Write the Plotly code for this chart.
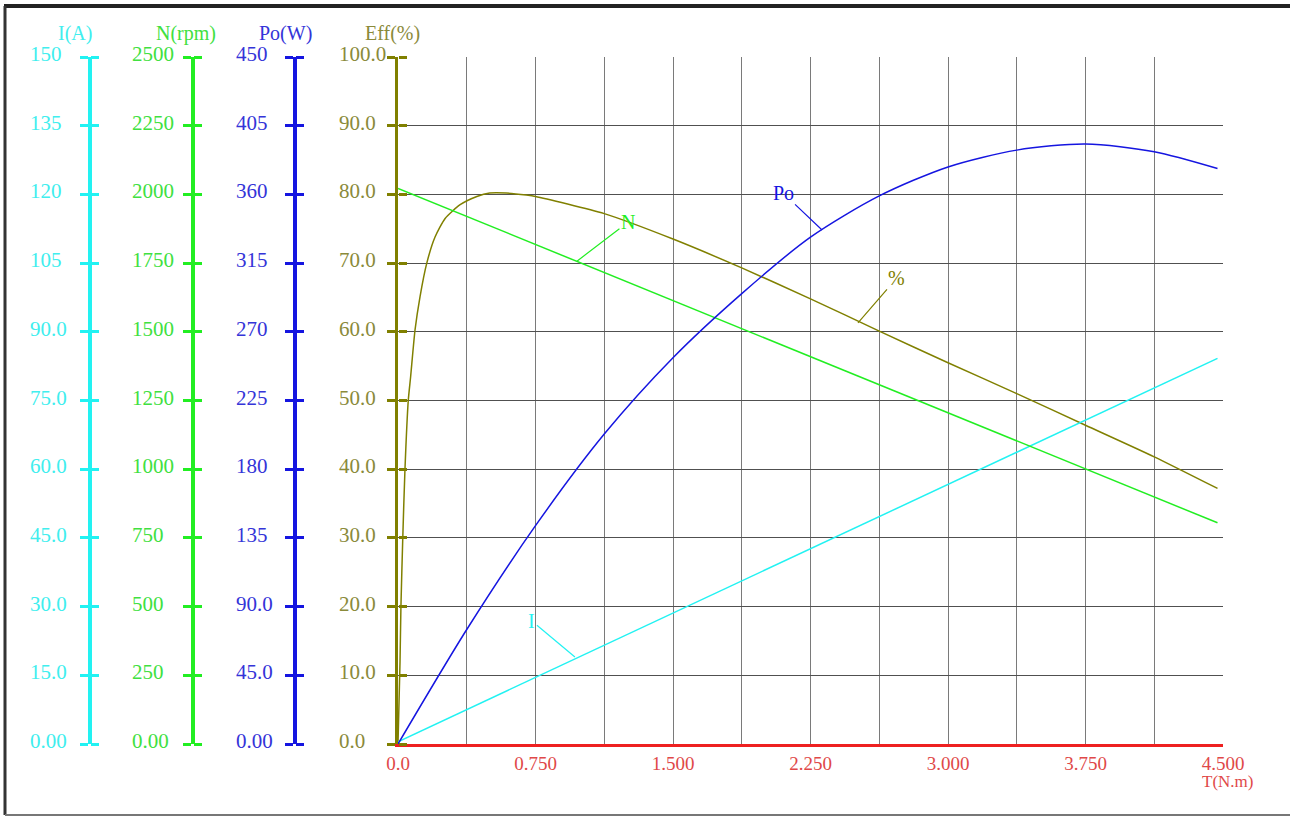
import plotly.graph_objects as go

# ---------------- data ----------------
T_lin = [0.0, 4.47]
I_vals = [0.5, 84.2]            # A
N_vals = [2022, 805]            # rpm

T_po = [0.0, 0.375, 0.75, 1.125, 1.5, 1.875, 2.25, 2.625, 3.0, 3.375, 3.75, 4.125, 4.47]
Po_vals = [0, 75, 143, 203, 253, 295, 332, 359, 378, 389, 393, 388, 377]   # W

T_eff = [0.0, 0.011, 0.016, 0.026, 0.038, 0.056, 0.069, 0.093, 0.12, 0.157, 0.202,
         0.257, 0.339, 0.43, 0.5, 0.59, 0.70, 0.75, 1.125, 1.5, 1.875, 2.25, 2.625,
         3.0, 3.375, 3.75, 4.125, 4.47]
Eff_vals = [0, 12, 20, 30, 40, 50, 53.5, 60.3, 65.1, 70.0, 73.8, 76.5, 78.5, 79.7,
            80.2, 80.2, 79.9, 79.7, 77.2, 73.5, 69.3, 64.8, 60.1, 55.5, 51.0, 46.4,
            41.8, 37.2]

x_ticks = [0, 0.75, 1.5, 2.25, 3.0, 3.75, 4.5]
x_labels = ["0.0", "0.750", "1.500", "2.250", "3.000", "3.750", "4.500"]
x_minor = [0.375, 1.125, 1.875, 2.625, 3.375, 4.125]

I_ticks = [0, 15, 30, 45, 60, 75, 90, 105, 120, 135, 150]
I_labels = ["0.00", "15.0", "30.0", "45.0", "60.0", "75.0", "90.0", "105", "120", "135", "150"]
N_ticks = [0, 250, 500, 750, 1000, 1250, 1500, 1750, 2000, 2250, 2500]
N_labels = ["0.00", "250", "500", "750", "1000", "1250", "1500", "1750", "2000", "2250", "2500"]
Po_ticks = [0, 45, 90, 135, 180, 225, 270, 315, 360, 405, 450]
Po_labels = ["0.00", "45.0", "90.0", "135", "180", "225", "270", "315", "360", "405", "450"]
Eff_ticks = [0, 10, 20, 30, 40, 50, 60, 70, 80, 90, 100]
Eff_labels = ["0.0", "10.0", "20.0", "30.0", "40.0", "50.0", "60.0", "70.0", "80.0", "90.0", "100.0"]

# ---------------- styling ----------------
W, H = 1290, 817
FONT = "Liberation Serif"
C_I, C_N, C_PO, C_EFF = "#22F2F2", "#22EE22", "#1515E0", "#808000"
T_I, T_N, T_PO, T_EFF = "#40EEEE", "#40E040", "#3434D8", "#8A8A3A"
C_X = "#EE2020"
T_X = "#E04848"

def px(x):
    return x / W

def py(y):
    return 1 - y / H

xdom = [px(398), px(1223)]
ydom = [py(744), py(57)]

fig = go.Figure()
fig.add_trace(go.Scatter(x=T_lin, y=I_vals, mode="lines", line=dict(color=C_I, width=1.5),
                         yaxis="y2", hoverinfo="skip"))
fig.add_trace(go.Scatter(x=T_lin, y=N_vals, mode="lines", line=dict(color=C_N, width=1.5),
                         yaxis="y3", hoverinfo="skip"))
fig.add_trace(go.Scatter(x=T_po, y=Po_vals, mode="lines",
                         line=dict(color=C_PO, width=1.5, shape="spline", smoothing=0.8),
                         yaxis="y4", hoverinfo="skip"))
fig.add_trace(go.Scatter(x=T_eff, y=Eff_vals, mode="lines",
                         line=dict(color=C_EFF, width=1.5, shape="spline", smoothing=0.6),
                         yaxis="y", hoverinfo="skip"))
# empty traces so the right-hand tick companions are drawn
for ya in ["y5", "y6", "y7", "y8"]:
    fig.add_trace(go.Scatter(x=[None], y=[None], mode="lines", yaxis=ya, hoverinfo="skip"))

def side_axis(pos, rng, ticks, color, right=False, line=True, lw=4):
    return dict(overlaying="y", anchor="free", position=pos, side="right" if right else "left",
                range=rng, tickmode="array", tickvals=ticks, showticklabels=False,
                ticks="outside", ticklen=8, tickwidth=3,
                tickcolor=color, showline=line, linecolor=color, linewidth=lw,
                showgrid=False, zeroline=False, fixedrange=True, automargin=False)

layout = dict(
    template="none",
    width=W, height=H, autosize=False, margin=dict(l=0, r=0, t=0, b=0, pad=0),
    paper_bgcolor="white", plot_bgcolor="white", showlegend=False,
    font=dict(family=FONT, size=19),
    xaxis=dict(domain=xdom, range=[0, 4.5], anchor="y", tickmode="array",
               tickvals=x_ticks, ticktext=x_labels, ticks="", automargin=False,
               tickfont=dict(family=FONT, size=19, color=T_X),
               showline=True, linecolor=C_X, linewidth=3,
               showgrid=True, gridcolor="#7a7a7a", gridwidth=1, zeroline=False,
               minor=dict(tickvals=x_minor, showgrid=True, gridcolor="#7a7a7a", gridwidth=1, ticks=""),
               fixedrange=True),
    yaxis=dict(domain=ydom, range=[0, 100], anchor="x", tickmode="array", tickvals=Eff_ticks,
               showticklabels=False, ticks="outside", ticklen=8, tickwidth=3, tickcolor=C_EFF,
               showline=True, linecolor=C_EFF, linewidth=3, automargin=False,
               showgrid=True, gridcolor="#505050", gridwidth=1, zeroline=False, fixedrange=True),
    yaxis2=side_axis(px(90), [0, 150], I_ticks, C_I),
    yaxis3=side_axis(px(193), [0, 2500], N_ticks, C_N),
    yaxis4=side_axis(px(295), [0, 450], Po_ticks, C_PO),
    yaxis5=side_axis(px(398), [0, 100], Eff_ticks, C_EFF, right=True, line=False),
    yaxis6=side_axis(px(90), [0, 150], I_ticks, C_I, right=True, line=False),
    yaxis7=side_axis(px(193), [0, 2500], N_ticks, C_N, right=True, line=False),
    yaxis8=side_axis(px(295), [0, 450], Po_ticks, C_PO, right=True, line=False),
)
fig.update_layout(**layout)

ann = []
# tick labels for the four value axes (left aligned like the reference)
for lx, ref, ticks, labels, col in [(28, "y2", I_ticks, I_labels, T_I),
                                     (130, "y3", N_ticks, N_labels, T_N),
                                     (234, "y4", Po_ticks, Po_labels, T_PO),
                                     (337, "y", Eff_ticks, Eff_labels, T_EFF)]:
    for v, t in zip(ticks, labels):
        ann.append(dict(x=px(lx), xref="paper", xanchor="left", y=v, yref=ref,
                        yanchor="middle", yshift=3, text=t, showarrow=False,
                        font=dict(family=FONT, size=21, color=col)))

# axis titles
for cx, t, col in [(75, "I(A)", T_I), (186, "N(rpm)", T_N), (285, "Po(W)", T_PO), (392, "Eff(%)", T_EFF)]:
    ann.append(dict(x=px(cx), xref="paper", xanchor="center", y=py(33), yref="paper",
                    yanchor="middle", text=t, showarrow=False,
                    font=dict(family=FONT, size=20, color=col)))

ann.append(dict(x=px(1227), xref="paper", xanchor="center", y=py(781), yref="paper",
                yanchor="middle", text="T(N.m)", showarrow=False,
                font=dict(family=FONT, size=17, color=T_X)))

# curve labels with leader lines
for x, y, ref, t, ax, ay, col in [(0.976, 1757, "y3", "N", 51, -39, C_N),
                                  (2.313, 336.7, "y4", "Po", -39, -37, C_PO),
                                  (2.509, 61.3, "y", "%", 39, -45, C_EFF),
                                  (0.965, 19.0, "y2", "I", -43, -36, C_I)]:
    ann.append(dict(x=x, xref="x", y=y, yref=ref, text=t, showarrow=True, arrowhead=0,
                    arrowwidth=1.2, arrowcolor=col, ax=ax, ay=ay, standoff=0,
                    font=dict(family=FONT, size=20, color=col)))

fig.update_layout(annotations=ann)

# picture frame
fig.add_shape(type="line", xref="paper", yref="paper", x0=px(4), x1=1, y0=py(6), y1=py(6),
              line=dict(color="#222222", width=4))
fig.add_shape(type="line", xref="paper", yref="paper", x0=px(5), x1=px(5), y0=py(6), y1=py(815),
              line=dict(color="#333333", width=3))
fig.add_shape(type="line", xref="paper", yref="paper", x0=px(5), x1=1, y0=py(815), y1=py(815),
              line=dict(color="#777777", width=2))

fig.write_html("out.html", config={"displayModeBar": False, "responsive": False},
               post_script="document.body.style.margin='0';document.body.style.overflow='hidden';")
